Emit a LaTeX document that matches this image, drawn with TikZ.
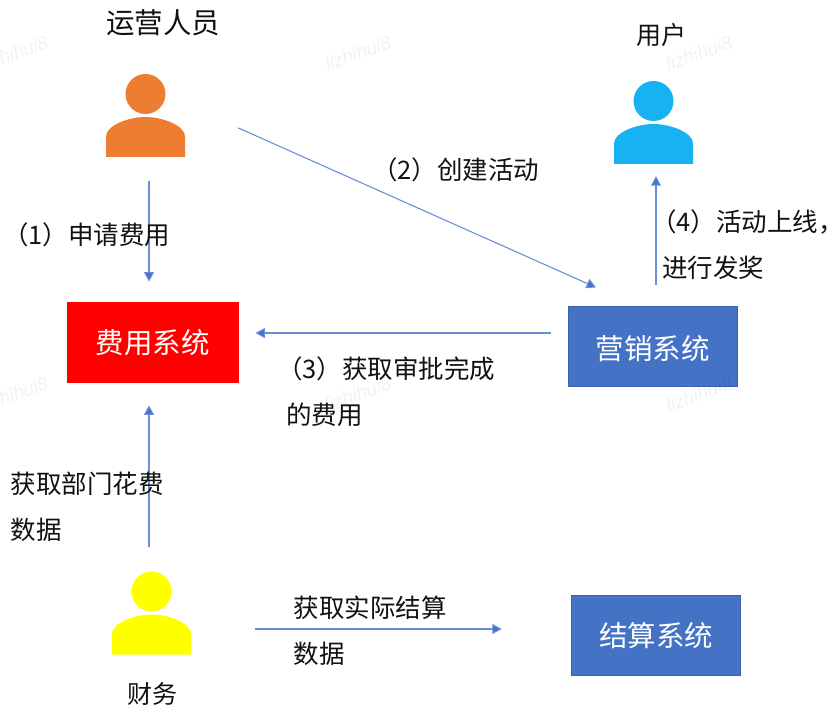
\documentclass[tikz,border=0pt]{standalone}
\usepackage{fontspec}
\setmainfont{Noto Sans CJK SC}
\newfontfamily\markfont{Liberation Sans}
\usetikzlibrary{arrows.meta}
\definecolor{boxblue}{HTML}{4472C4}
\definecolor{boxedge}{HTML}{3A62AE}
\definecolor{linkblue}{HTML}{6A8FD8}
\definecolor{tipblue}{HTML}{4472C4}
\definecolor{roleorange}{HTML}{ED7D31}
\definecolor{rolecyan}{HTML}{17B2F2}
\definecolor{roleyellow}{HTML}{FFFF00}
\definecolor{labelink}{HTML}{111111}
\tikzset{
  sysbox/.style={rectangle,minimum width=169.5pt,minimum height=79.5pt,inner sep=0pt,
    fill=boxblue,draw=boxedge,line width=.8pt,text=white,font=\fontsize{28.5}{32}\selectfont},
  feebox/.style={sysbox,minimum width=171pt,minimum height=80pt,fill=red,draw=red},
  role/.style={rectangle,minimum width=79pt,minimum height=83pt,inner sep=0pt},
  link/.style={draw=linkblue,line width=1.1pt,
    -{Triangle[length=9.5pt,width=10pt,fill=tipblue]}},
  heading/.style={font=\fontsize{28.5}{32}\selectfont,text=labelink,inner sep=0pt},
  caption/.style={font=\fontsize{25.5}{46}\selectfont,text=labelink,inner sep=0pt,
    align=left,anchor=west},
  wm/.style={font=\markfont\itshape\fontsize{19}{22}\selectfont,text=black,opacity=.05,
    rotate=20,inner sep=0pt},
}
% Person glyph: head and shoulders, placed relative to the centre of its node
\newcommand{\persona}[2]{%
  \fill[#2] ([yshift=21.5pt]#1.center) circle[radius=20pt];
  \fill[#2,shift={(#1.center)}]
    (-39.5,41.5) -- (-39.5,21)
    .. controls (-39.5,10) and (-17,1.5) .. (0,1.5)
    .. controls (17,1.5) and (39.5,10) .. (39.5,21)
    -- (39.5,41.5) -- cycle;}
\begin{document}
\begin{tikzpicture}[x=1pt,y=-1pt]
\useasboundingbox (0,0) rectangle (840,714);

% Roles
\node[role] (opr) at (145.5,115.5) {};
\node[role] (usr) at (653.5,122.5) {};
\node[role] (fin) at (151.5,613) {};
\persona{opr}{roleorange}
\persona{usr}{rolecyan}
\persona{fin}{roleyellow}

% Systems
\node[feebox] (fee) at (152.5,342) {\raisebox{-1pt}[\height][\depth]{费用系统}};
\node[sysbox] (mkt) at (652.75,346.5) {\raisebox{-2pt}[\height][\depth]{营销系统}};
\node[sysbox] (set) at (656,635.5) {结算系统};

% Connectors
\draw[link,shorten <=24pt,shorten >=20pt] ([xshift=3.5pt]opr.south) -- ([xshift=-3.5pt]fee.north);
\draw[link,shorten <=58pt,shorten >=46.5pt] ([yshift=11.2pt]opr.east) -- ([xshift=-14.25pt]mkt.north);
\draw[link,shorten <=17pt,shorten >=17pt] ([yshift=13.5pt]mkt.west) -- ([yshift=9pt]fee.east);
\draw[link,shorten <=21pt,shorten >=12pt] ([xshift=3.25pt]mkt.north) -- ([xshift=2.5pt]usr.south);
\draw[link,shorten <=24pt,shorten >=23pt] ([xshift=-2.5pt]fin.north) -- ([xshift=-3.5pt]fee.south);
\draw[link,shorten <=64pt,shorten >=69pt] ([yshift=-16pt]fin.east) -- ([yshift=6.5pt]set.west);

% Role names
\node[heading] (oprname) at (163,23) {运营人员};
\node[heading,font=\fontsize{25}{30}\selectfont] (usrname) at (661,35) {用户};
\node[heading,font=\fontsize{25}{30}\selectfont] (finname) at (152.5,694) {财务};

% Step captions
\node[caption] (stepa) at (3,235) {（1）申请费用};
\node[caption] (stepb) at (372,170) {（2）创建活动};
\node[caption] (stepc) at (286,392) {\hspace*{-9pt}（3）获取审批完成\\的费用};
\node[caption] (stepd) at (662,245) {\hspace*{-11pt}（4）活动上线，\\进行发奖};
\node[caption] (stepe) at (10.5,507) {获取部门花费\\数据};
\node[caption] (stepf) at (293.5,631) {获取实际结算\\数据};

% Faint repeated name across the sheet
\node[wm] (wma) at (15,53) {lizhihui8};
\node[wm] (wmb) at (358,53) {lizhihui8};
\node[wm] (wmc) at (699,53) {lizhihui8};
\node[wm] (wmd) at (15,394) {lizhihui8};
\node[wm] (wme) at (358,394) {lizhihui8};
\node[wm] (wmf) at (699,394) {lizhihui8};
\end{tikzpicture}
\end{document}
